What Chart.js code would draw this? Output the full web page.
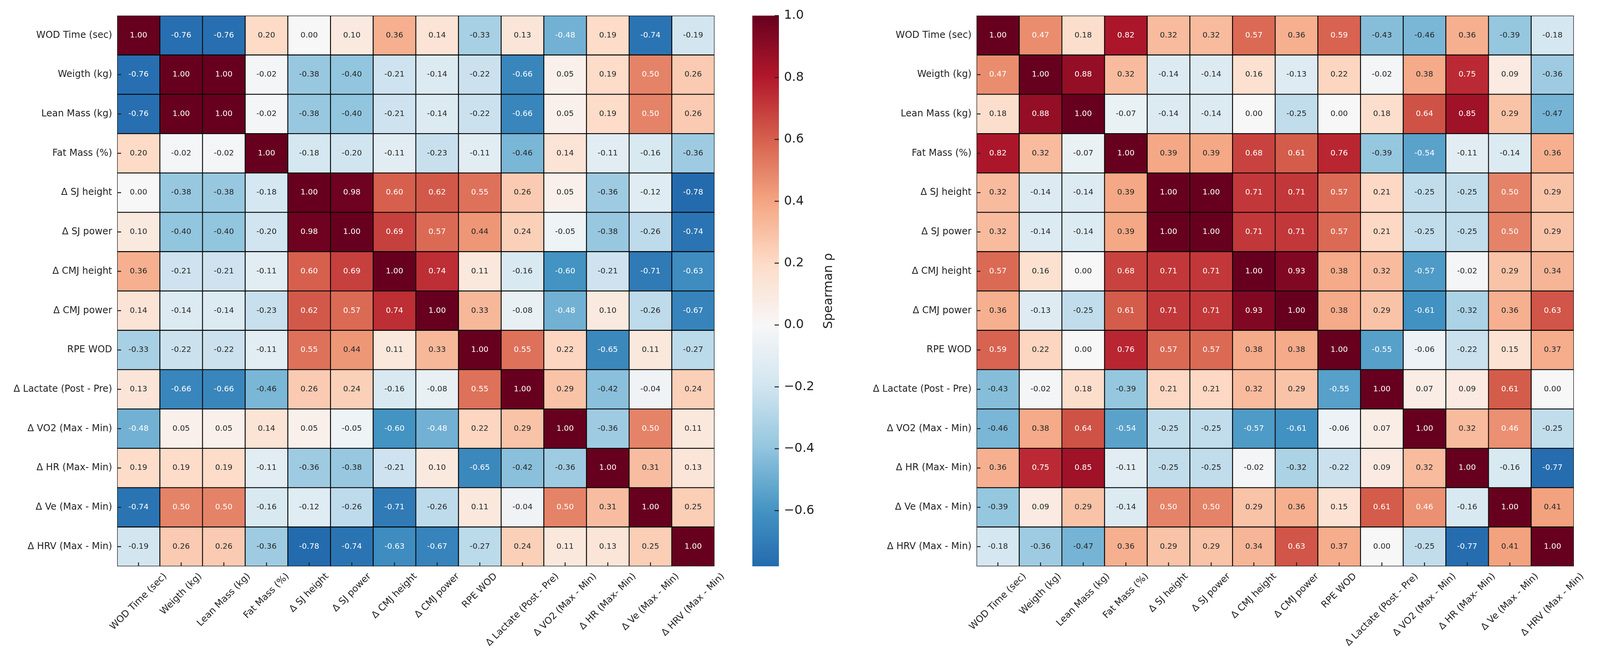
<!DOCTYPE html>
<html>
<head>
<meta charset="utf-8">
<script src="https://cdn.jsdelivr.net/npm/chart.js@4.4.1/dist/chart.umd.min.js"></script>
<style>
  html, body { margin: 0; padding: 0; background: #fff; overflow: hidden; }
  #fig { position: relative; width: 4370px; height: 1695px; background: #fff; }
  canvas { position: absolute; top: 0; }
</style>
</head>
<body>
<div id="fig">
  <canvas id="heatLeft" width="1860" height="1695" style="left:0px"></canvas>
  <canvas id="barLeft" width="260" height="1695" style="left:1900px"></canvas>
  <canvas id="heatRight" width="1860" height="1695" style="left:2200px"></canvas>
  <canvas id="barRight" width="260" height="1695" style="left:4100px"></canvas>
</div>
<script>
const labels = ['WOD Time (sec)', 'Weigth (kg)', 'Lean Mass (kg)', 'Fat Mass (%)', 'Δ SJ height', 'Δ SJ power',
  'Δ CMJ height', 'Δ CMJ power', 'RPE WOD', 'Δ Lactate (Post - Pre)', 'Δ VO2 (Max - Min)', 'Δ HR (Max- Min)',
  'Δ Ve (Max - Min)', 'Δ HRV (Max - Min)'];

// left panel, spearman rho
const leftRho = [
  [1.00, -0.76, -0.76, 0.20, 0.00, 0.10, 0.36, 0.14, -0.33, 0.13, -0.48, 0.19, -0.74, -0.19],
  [-0.76, 1.00, 1.00, -0.02, -0.38, -0.40, -0.21, -0.14, -0.22, -0.66, 0.05, 0.19, 0.50, 0.26],
  [-0.76, 1.00, 1.00, -0.02, -0.38, -0.40, -0.21, -0.14, -0.22, -0.66, 0.05, 0.19, 0.50, 0.26],
  [0.20, -0.02, -0.02, 1.00, -0.18, -0.20, -0.11, -0.23, -0.11, -0.46, 0.14, -0.11, -0.16, -0.36],
  [0.00, -0.38, -0.38, -0.18, 1.00, 0.98, 0.60, 0.62, 0.55, 0.26, 0.05, -0.36, -0.12, -0.78],
  [0.10, -0.40, -0.40, -0.20, 0.98, 1.00, 0.69, 0.57, 0.44, 0.24, -0.05, -0.38, -0.26, -0.74],
  [0.36, -0.21, -0.21, -0.11, 0.60, 0.69, 1.00, 0.74, 0.11, -0.16, -0.60, -0.21, -0.71, -0.63],
  [0.14, -0.14, -0.14, -0.23, 0.62, 0.57, 0.74, 1.00, 0.33, -0.08, -0.48, 0.10, -0.26, -0.67],
  [-0.33, -0.22, -0.22, -0.11, 0.55, 0.44, 0.11, 0.33, 1.00, 0.55, 0.22, -0.65, 0.11, -0.27],
  [0.13, -0.66, -0.66, -0.46, 0.26, 0.24, -0.16, -0.08, 0.55, 1.00, 0.29, -0.42, -0.04, 0.24],
  [-0.48, 0.05, 0.05, 0.14, 0.05, -0.05, -0.60, -0.48, 0.22, 0.29, 1.00, -0.36, 0.50, 0.11],
  [0.19, 0.19, 0.19, -0.11, -0.36, -0.38, -0.21, 0.10, -0.65, -0.42, -0.36, 1.00, 0.31, 0.13],
  [-0.74, 0.50, 0.50, -0.16, -0.12, -0.26, -0.71, -0.26, 0.11, -0.04, 0.50, 0.31, 1.00, 0.25],
  [-0.19, 0.26, 0.26, -0.36, -0.78, -0.74, -0.63, -0.67, -0.27, 0.24, 0.11, 0.13, 0.25, 1.00]
];

// right panel
const rightRho = [
  [1.00, 0.47, 0.18, 0.82, 0.32, 0.32, 0.57, 0.36, 0.59, -0.43, -0.46, 0.36, -0.39, -0.18],
  [0.47, 1.00, 0.88, 0.32, -0.14, -0.14, 0.16, -0.13, 0.22, -0.02, 0.38, 0.75, 0.09, -0.36],
  [0.18, 0.88, 1.00, -0.07, -0.14, -0.14, 0.00, -0.25, 0.00, 0.18, 0.64, 0.85, 0.29, -0.47],
  [0.82, 0.32, -0.07, 1.00, 0.39, 0.39, 0.68, 0.61, 0.76, -0.39, -0.54, -0.11, -0.14, 0.36],
  [0.32, -0.14, -0.14, 0.39, 1.00, 1.00, 0.71, 0.71, 0.57, 0.21, -0.25, -0.25, 0.50, 0.29],
  [0.32, -0.14, -0.14, 0.39, 1.00, 1.00, 0.71, 0.71, 0.57, 0.21, -0.25, -0.25, 0.50, 0.29],
  [0.57, 0.16, 0.00, 0.68, 0.71, 0.71, 1.00, 0.93, 0.38, 0.32, -0.57, -0.02, 0.29, 0.34],
  [0.36, -0.13, -0.25, 0.61, 0.71, 0.71, 0.93, 1.00, 0.38, 0.29, -0.61, -0.32, 0.36, 0.63],
  [0.59, 0.22, 0.00, 0.76, 0.57, 0.57, 0.38, 0.38, 1.00, -0.55, -0.06, -0.22, 0.15, 0.37],
  [-0.43, -0.02, 0.18, -0.39, 0.21, 0.21, 0.32, 0.29, -0.55, 1.00, 0.07, 0.09, 0.61, 0.00],
  [-0.46, 0.38, 0.64, -0.54, -0.25, -0.25, -0.57, -0.61, -0.06, 0.07, 1.00, 0.32, 0.46, -0.25],
  [0.36, 0.75, 0.85, -0.11, -0.25, -0.25, -0.02, -0.32, -0.22, 0.09, 0.32, 1.00, -0.16, -0.77],
  [-0.39, 0.09, 0.29, -0.14, 0.50, 0.50, 0.29, 0.36, 0.15, 0.61, 0.46, -0.16, 1.00, 0.41],
  [-0.18, -0.36, -0.47, 0.36, 0.29, 0.29, 0.34, 0.63, 0.37, 0.00, -0.25, -0.77, 0.41, 1.00]
];

const colorbarTicks = [-0.6, -0.4, -0.2, 0.0, 0.2, 0.4, 0.6, 0.8, 1.0];
const colorbarTitle = 'Spearman ρ';

Chart.defaults.font.family = '"DejaVu Sans", sans-serif';

// RdBu_r, centred on 0 (seaborn center=0)
const RDBU_R = ['#053061', '#2166ac', '#4393c3', '#92c5de', '#d1e5f0', '#f7f7f7',
  '#fddbc7', '#f4a582', '#d6604d', '#b2182b', '#67001f'].map(h => [
    parseInt(h.slice(1, 3), 16), parseInt(h.slice(3, 5), 16), parseInt(h.slice(5, 7), 16)]);

function cmap(v) {
  let t = Math.min(1, Math.max(0, (v + 1) / 2));
  const p = t * 10;
  const i = Math.min(9, Math.floor(p));
  const f = p - i;
  return RDBU_R[i].map((c, k) => c + (RDBU_R[i + 1][k] - c) * f);
}
const rgb = c => 'rgb(' + c.map(Math.round).join(',') + ')';

function textColor(v) {
  const lin = cmap(v).map(c => {
    c = c / 255;
    return c <= 0.03928 ? c / 12.92 : Math.pow((c + 0.055) / 1.055, 2.4);
  });
  const lum = 0.2126 * lin[0] + 0.7152 * lin[1] + 0.0722 * lin[2];
  return lum > 0.408 ? '#262626' : '#ffffff';
}

const heatmapDecor = {
  id: 'heatmapDecor',
  afterDatasetsDraw(chart) {
    const ctx = chart.ctx;
    const xs = chart.scales.x, ys = chart.scales.y;
    const {left, bottom} = chart.chartArea;
    ctx.save();
    ctx.font = '20px "DejaVu Sans"';
    ctx.textAlign = 'center';
    ctx.textBaseline = 'middle';
    chart.data.datasets.forEach((ds, i) => {
      chart.getDatasetMeta(i).data.forEach((bar, j) => {
        const v = ds.rho[j];
        ctx.fillStyle = textColor(v);
        ctx.fillText(v.toFixed(2), bar.x, (bar.y + bar.base) / 2);
      });
    });

    // ticks point inwards
    ctx.strokeStyle = '#222';
    ctx.lineWidth = 2.5;
    labels.forEach((_, k) => {
      const y = ys.getPixelForValue(k + 0.5);
      const x = xs.getPixelForValue(k);
      ctx.beginPath(); ctx.moveTo(left, y); ctx.lineTo(left + 10, y); ctx.stroke();
      ctx.beginPath(); ctx.moveTo(x, bottom); ctx.lineTo(x, bottom - 10); ctx.stroke();
    });

    // x labels at 45deg, box centred under the tick like matplotlib
    ctx.font = '24px "DejaVu Sans"';
    ctx.fillStyle = '#222';
    ctx.textAlign = 'right';
    labels.forEach((lab, k) => {
      const w = ctx.measureText(lab).width;
      ctx.save();
      ctx.translate(xs.getPixelForValue(k) + 0.354 * w, bottom + 12 + 0.354 * 28);
      ctx.rotate(-Math.PI / 4);
      ctx.fillText(lab, 0, 0);
      ctx.restore();
    });
    ctx.restore();
  }
};

function heatmapConfig(matrix) {
  return {
    type: 'bar',
    data: {
      labels: labels,
      datasets: matrix.map((row, i) => ({
        label: labels[i],
        data: row.map(() => [i, i + 1]),
        rho: row,
        backgroundColor: row.map(v => rgb(cmap(v))),
        borderColor: '#000',
        borderWidth: 1.5,
        borderSkipped: false,
        grouped: false,
        barPercentage: 1,
        categoryPercentage: 1
      }))
    },
    options: {
      responsive: false,
      devicePixelRatio: 1,
      animation: false,
      layout: { padding: { top: 40, right: 31, left: 0, bottom: 0 } },
      plugins: { legend: { display: false }, tooltip: { enabled: false } },
      scales: {
        x: {
          type: 'category',
          offset: true,
          grid: { display: false, drawTicks: false },
          border: { display: false },
          ticks: { display: false },
          afterFit: s => { s.height = 245; }
        },
        y: {
          type: 'linear',
          min: 0,
          max: labels.length,
          reverse: true,
          grid: { display: false, drawTicks: false },
          border: { display: false },
          afterBuildTicks: s => { s.ticks = labels.map((_, i) => ({ value: i + 0.5 })); },
          ticks: {
            autoSkip: false,
            padding: 13,
            color: '#222',
            font: { size: 24 },
            callback: (v, i) => labels[i]
          },
          afterFit: s => { s.width = 300; }
        }
      }
    },
    plugins: [heatmapDecor]
  };
}

function gradientFor(chart, vmin) {
  if (!chart.chartArea) return null;
  const ys = chart.scales.y;
  const g = chart.ctx.createLinearGradient(0, ys.getPixelForValue(vmin), 0, ys.getPixelForValue(1));
  for (let k = 0; k <= 64; k++) {
    const v = vmin + (1 - vmin) * k / 64;
    g.addColorStop(k / 64, rgb(cmap(v)));
  }
  return g;
}

const colorbarDecor = {
  id: 'colorbarDecor',
  afterDraw(chart) {
    const ctx = chart.ctx, ys = chart.scales.y;
    const {right, top, bottom} = chart.chartArea;
    ctx.save();
    ctx.strokeStyle = '#222';
    ctx.lineWidth = 2.5;
    colorbarTicks.forEach(v => {
      const y = ys.getPixelForValue(v);
      ctx.beginPath(); ctx.moveTo(right - 11, y); ctx.lineTo(right, y); ctx.stroke();
    });
    ctx.translate(right + 128, (top + bottom) / 2);
    ctx.rotate(-Math.PI / 2);
    ctx.font = '32px "DejaVu Sans"';
    ctx.fillStyle = '#222';
    ctx.textAlign = 'center';
    ctx.textBaseline = 'middle';
    ctx.fillText(colorbarTitle, 0, 0);
    ctx.restore();
  }
};

function colorbarConfig(matrix) {
  const vmin = Math.min(...matrix.flat());
  return {
    type: 'bar',
    data: {
      labels: [colorbarTitle],
      datasets: [{
        data: [[vmin, 1]],
        backgroundColor: c => gradientFor(c.chart, vmin),
        borderWidth: 0,
        barPercentage: 1,
        categoryPercentage: 1
      }]
    },
    options: {
      responsive: false,
      devicePixelRatio: 1,
      animation: false,
      layout: { padding: { top: 40, bottom: 245, left: 26, right: 0 } },
      plugins: { legend: { display: false }, tooltip: { enabled: false } },
      scales: {
        x: { display: false },
        y: {
          position: 'right',
          min: vmin,
          max: 1,
          grid: { display: false, drawTicks: false },
          border: { display: false },
          afterBuildTicks: s => { s.ticks = colorbarTicks.map(v => ({ value: v })); },
          ticks: {
            padding: 13,
            color: '#222',
            font: { size: 32 },
            callback: v => (v < -1e-9 ? '\u2212' : '') + Math.abs(v).toFixed(1)
          },
          afterFit: s => { s.width = 166; }
        }
      }
    },
    plugins: [colorbarDecor]
  };
}

new Chart(document.getElementById('heatLeft'), heatmapConfig(leftRho));
new Chart(document.getElementById('barLeft'), colorbarConfig(leftRho));
new Chart(document.getElementById('heatRight'), heatmapConfig(rightRho));
new Chart(document.getElementById('barRight'), colorbarConfig(rightRho));
</script>
</body>
</html>
